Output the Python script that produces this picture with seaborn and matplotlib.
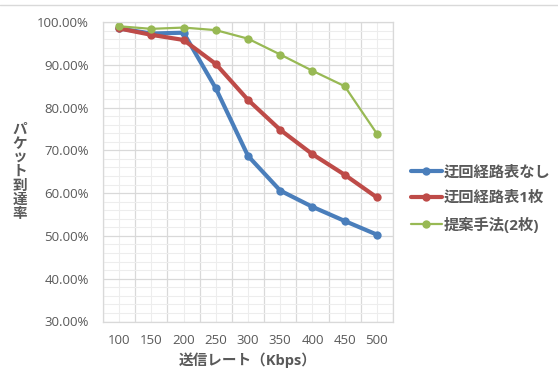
import matplotlib
matplotlib.use("Agg")
import matplotlib.pyplot as plt
import numpy as np
import pandas as pd
import seaborn as sns
from matplotlib.ticker import MultipleLocator, FuncFormatter

# データ
rates = [100, 150, 200, 250, 300, 350, 400, 450, 500]
no_detour = [98.5, 97.3, 97.5, 84.5, 68.7, 60.6, 56.8, 53.5, 50.3]
detour_one = [98.5, 97.0, 95.8, 90.2, 81.8, 74.8, 69.1, 64.3, 59.0]
proposed = [99.0, 98.4, 98.7, 98.1, 96.1, 92.4, 88.6, 85.0, 73.9]
series_names = ["迂回経路表なし", "迂回経路表1枚", "提案手法(2枚)"]
colors = ["#4A7EBB", "#BE4B48", "#98B954"]
widths = [3.0, 3.0, 1.6]

df = pd.DataFrame({
    "rate": rates * 3,
    "value": no_detour + detour_one + proposed,
    "series": sum([[n] * len(rates) for n in series_names], []),
})

sns.set_style("white")
plt.rcParams["font.family"] = ["Open Sans", "Noto Sans CJK JP", "DejaVu Sans"]
text_color = "#595959"

fig = plt.figure(figsize=(5.58, 3.87), dpi=100)
ax = fig.add_axes([103 / 558, 1 - 321.5 / 387, 290 / 558, 299.5 / 387])

for name, c, lw in zip(series_names, colors, widths):
    sub = df[df["series"] == name]
    sns.lineplot(data=sub, x="rate", y="value", ax=ax, color=c, linewidth=lw,
                 marker="o", markersize=6, markeredgewidth=0, label=name)

ax.set_xlim(75, 525)
ax.set_ylim(30, 100)
ax.xaxis.set_major_locator(MultipleLocator(50, offset=25))
ax.xaxis.set_minor_locator(MultipleLocator(50))
ax.yaxis.set_major_locator(MultipleLocator(10))
ax.yaxis.set_minor_locator(MultipleLocator(2))
ax.grid(which="major", color="#D9D9D9", linewidth=0.9)
ax.grid(which="minor", color="#EDEDED", linewidth=0.8)
ax.set_axisbelow(True)
ax.yaxis.set_major_formatter(FuncFormatter(lambda v, p: f"{v:.2f}%"))
ax.xaxis.set_major_formatter(FuncFormatter(lambda v, p: ""))
ax.xaxis.set_minor_formatter(FuncFormatter(lambda v, p: f"{int(round(v))}"))
ax.tick_params(axis="both", which="both", length=0, colors=text_color, labelsize=9.5)
ax.tick_params(axis="x", which="minor", pad=9)
ax.tick_params(axis="y", pad=10)
for s in ax.spines.values():
    s.set_color("#D9D9D9")
    s.set_linewidth(0.9)

ax.set_xlabel("送信レート（Kbps）", color=text_color, fontsize=10.5, fontweight="bold", labelpad=4)
ax.set_ylabel("")
fig.text(20 / 558, 1 - 172 / 387, "\n".join("パケット到達率"), color=text_color,
         fontsize=10.5, fontweight="bold", ha="center", va="center", linespacing=1.0)

leg = ax.legend(loc="center left", bbox_to_anchor=(411 / 558, 1 - 199 / 387),
                bbox_transform=fig.transFigure, frameon=False, fontsize=11,
                borderpad=0, borderaxespad=0,
                handlelength=2.0, handletextpad=0.15, labelspacing=0.75)
for t in leg.get_texts():
    t.set_color(text_color)
    t.set_fontweight("bold")

# チャート枠の上端
fig.add_artist(plt.Line2D([0, 1], [1 - 5 / 387, 1 - 5 / 387], color="#D9D9D9", linewidth=1.0))

fig.savefig("out.png", dpi=100)
